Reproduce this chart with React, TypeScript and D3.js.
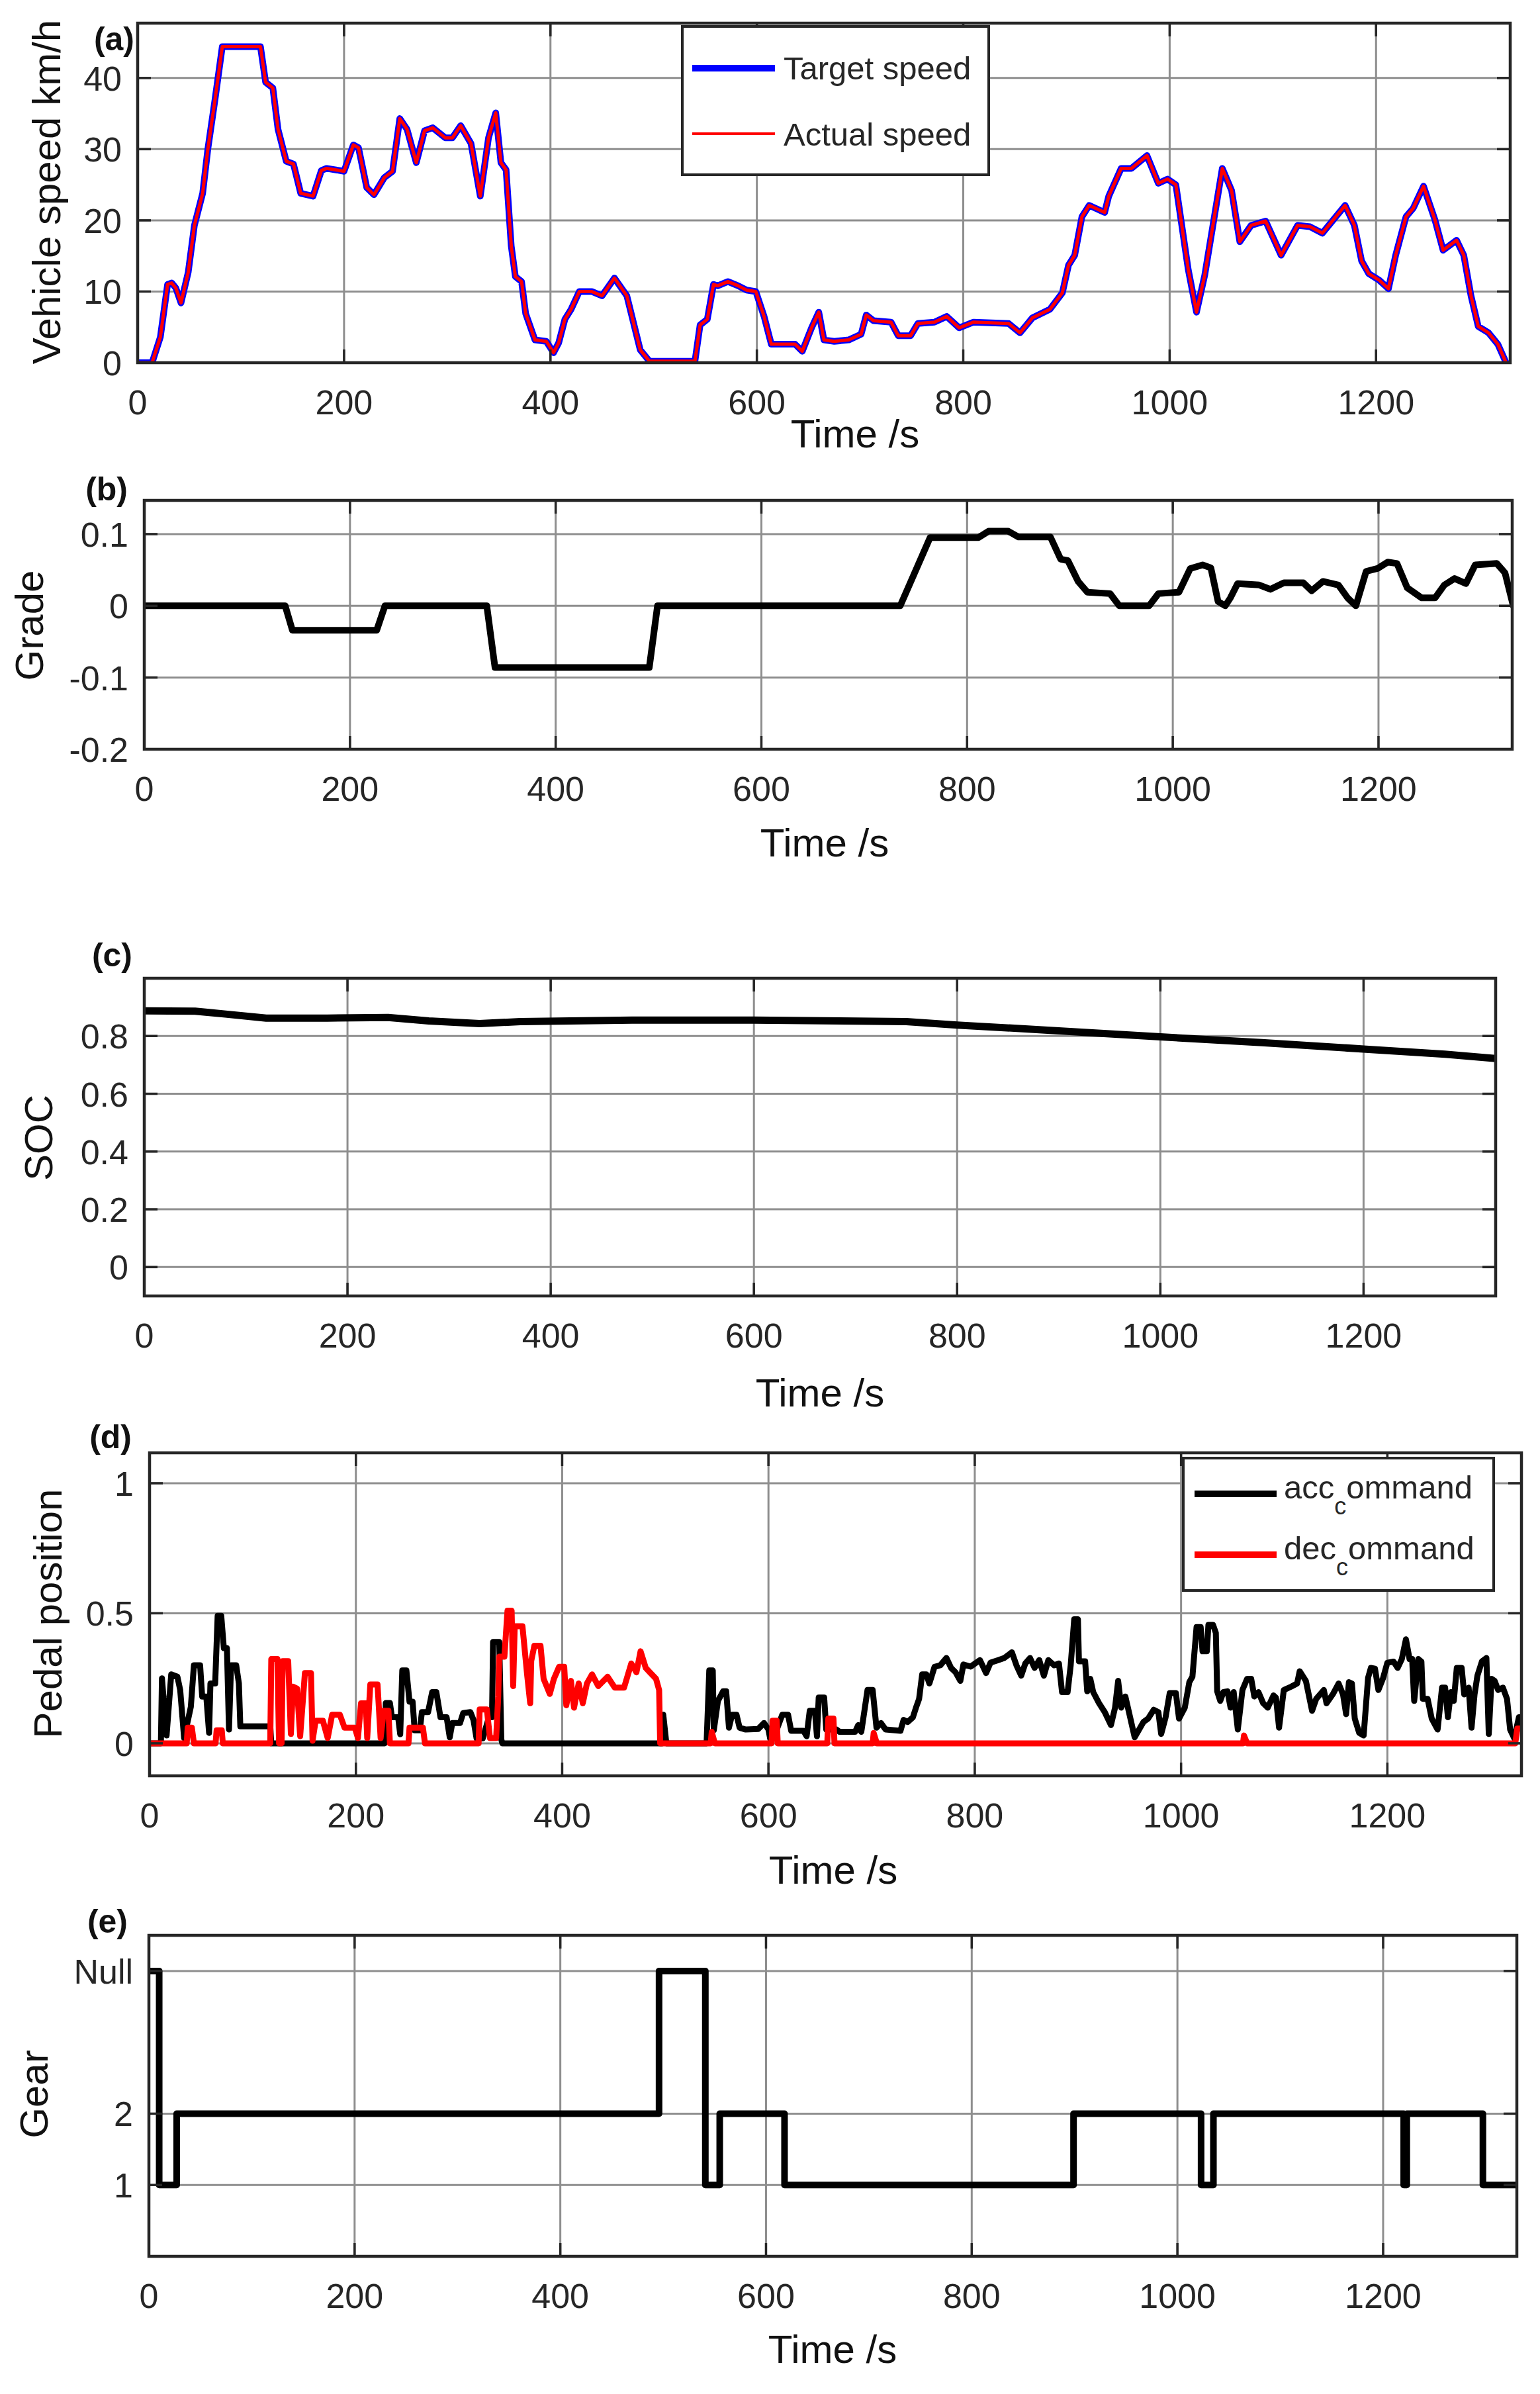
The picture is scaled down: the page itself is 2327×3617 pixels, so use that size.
import React from 'react';
import { line, scaleLinear, curveStepAfter, curveLinear } from 'd3';

const FONT = '"Liberation Sans", Arial, Helvetica, sans-serif';
const AXIS = '#262626';
const GRID = '#8e8e8e';

type Pt = [number, number];

// time axis shared by every panel
const timeRange: Pt = [0, 1330];
const timeTicks = [0, 200, 400, 600, 800, 1000, 1200];

// (a) speed, km/h
const speedTicks = [0, 10, 20, 30, 40];
const speedProfile: Pt[] = [
  [0, 0], [14, 0], [22, 3.6], [29, 11], [33, 11.2], [37, 10.5], [42, 8.4], [49, 12.7], [55, 19.3], [63, 23.8],
  [68, 30], [75, 37], [82, 44.4], [119, 44.4], [124, 39.4], [131, 38.6], [136, 32.8], [144, 28.3], [151, 27.9],
  [158, 23.8], [170, 23.4], [178, 27], [183, 27.3], [200, 26.9], [209, 30.6], [214, 30.2], [222, 24.6], [229, 23.6],
  [239, 26], [247, 26.9], [254, 34.3], [261, 32.8], [270, 28.1], [278, 32.6], [286, 33], [298, 31.6], [305, 31.6],
  [313, 33.3], [323, 30.8], [332, 23.4], [340, 31.6], [347, 35.1], [352, 28.1], [357, 27.1], [362, 16.4], [366, 12.1],
  [372, 11.4], [376, 6.9], [385, 3.2], [396, 3], [403, 1.4], [408, 2.8], [414, 6.1], [420, 7.5], [428, 10], [440, 10],
  [450, 9.4], [462, 11.9], [474, 9.4], [487, 1.8], [496, 0.2], [540, 0.2], [545, 5.3], [552, 6.1], [558, 11],
  [562, 10.8], [572, 11.4], [582, 10.8], [590, 10.2], [599, 10], [607, 6.5], [614, 2.6], [637, 2.6], [644, 1.6],
  [653, 4.9], [660, 7.1], [665, 3.2], [675, 3], [689, 3.2], [701, 4], [706, 6.7], [713, 5.9], [730, 5.7], [737, 3.8],
  [749, 3.8], [756, 5.5], [772, 5.7], [784, 6.5], [796, 4.9], [810, 5.7], [844, 5.5], [855, 4.2], [867, 6.3],
  [884, 7.5], [896, 9.8], [902, 13.7], [908, 15.1], [915, 20.5], [922, 22.1], [937, 21.1], [941, 23.4], [953, 27.3],
  [963, 27.3], [978, 29.1], [989, 25.2], [998, 25.8], [1006, 25], [1018, 13.1], [1026, 7.1], [1034, 12.3],
  [1051, 27.3], [1060, 24.2], [1068, 17], [1079, 19.3], [1093, 19.9], [1108, 15.1], [1124, 19.3], [1136, 19.1],
  [1148, 18.2], [1170, 22.1], [1179, 19.3], [1186, 14.3], [1193, 12.5], [1203, 11.6], [1212, 10.4], [1219, 15.1],
  [1229, 20.5], [1236, 21.7], [1246, 24.8], [1257, 20.1], [1265, 15.8], [1278, 17.2], [1285, 15.1], [1292, 9.4],
  [1299, 5.1], [1309, 4.2], [1318, 2.6], [1326, 0],
];

// (b) road grade
const gradeTicks = [-0.2, -0.1, 0, 0.1];
const gradeTickLabels = ['-0.2', '-0.1', '0', '0.1'];
const gradeProfile: Pt[] = [
  [0, 0], [137, 0], [144, -0.034], [226, -0.034], [234, 0], [333, 0], [341, -0.086], [491, -0.086], [499, 0],
  [735, 0], [764, 0.095], [811, 0.095], [821, 0.104], [840, 0.104], [850, 0.096], [881, 0.096], [891, 0.065],
  [898, 0.063], [908, 0.034], [917, 0.019], [939, 0.017], [948, 0], [977, 0], [986, 0.017], [1006, 0.019],
  [1017, 0.052], [1029, 0.057], [1037, 0.053], [1044, 0.006], [1051, 0], [1056, 0.011], [1063, 0.031], [1084, 0.029],
  [1095, 0.023], [1108, 0.032], [1127, 0.032], [1135, 0.021], [1146, 0.034], [1161, 0.029], [1170, 0.011],
  [1178, 0], [1188, 0.048], [1199, 0.052], [1209, 0.061], [1218, 0.059], [1228, 0.025], [1242, 0.011], [1255, 0.011],
  [1264, 0.029], [1274, 0.038], [1285, 0.031], [1294, 0.057], [1315, 0.059], [1323, 0.046], [1331, 0],
];

// (c) battery state of charge
const socTicks = [0, 0.2, 0.4, 0.6, 0.8];
const socTickLabels = ['0', '0.2', '0.4', '0.6', '0.8'];
const socProfile: Pt[] = [
  [0, 0.887], [50, 0.886], [80, 0.876], [120, 0.862], [180, 0.862], [240, 0.864], [280, 0.852], [330, 0.843],
  [370, 0.85], [480, 0.855], [600, 0.855], [750, 0.85], [800, 0.838], [900, 0.818], [1000, 0.797], [1100, 0.777],
  [1200, 0.755], [1280, 0.737], [1330, 0.722],
];

// (d) pedal commands
const pedalTicks = [0, 0.5, 1];
const pedalTickLabels = ['0', '0.5', '1'];
const accCommand: Pt[] = [
  [0, 0], [11, 0], [12, 0.25], [16.5, 0.03], [21, 0.265], [27, 0.256], [29.7, 0.205], [33.5, 0.02], [40, 0.14],
  [43, 0.3], [49, 0.3], [51, 0.18], [55, 0.18], [57.7, 0.04], [59, 0.23], [63.6, 0.23], [66, 0.49], [69.5, 0.49],
  [72, 0.366], [75, 0.366], [77, 0.053], [79, 0.3], [84, 0.3], [86.6, 0.23], [88, 0.065], [117, 0.065], [118, 0],
  [228, 0], [229, 0.155], [233, 0.155], [235, 0.1], [241, 0.1], [243, 0.035], [245, 0.28], [249, 0.28], [252, 0.16],
  [255, 0.16], [257, 0.05], [262, 0.05], [264, 0.12], [270, 0.12], [274, 0.197], [278, 0.197], [282, 0.1], [288, 0.1],
  [291, 0.023], [293.5, 0.078], [301, 0.078], [304, 0.116], [311, 0.12], [314, 0.09], [317, 0.019], [323, 0.019],
  [329, 0.1], [332, 0.1], [333, 0.39], [339, 0.39], [341, 0.015], [342, 0], [497, 0], [498, 0.11], [501, 0], [540, 0],
  [542.6, 0.28], [546, 0.28], [547, 0.05], [551, 0.163], [556, 0.2], [559, 0.2], [561.7, 0.06], [564.7, 0.11],
  [569, 0.11], [572, 0.06], [578, 0.053], [590, 0.055], [595.7, 0.078], [600, 0.053], [601.6, 0.019], [605, 0.02],
  [613.4, 0.11], [619, 0.11], [622, 0.048], [634, 0.048], [637, 0.027], [640, 0.125], [645, 0.125], [647, 0.027],
  [648.7, 0.176], [654, 0.176], [656, 0.053], [666, 0.053], [669, 0.044], [684, 0.044], [687, 0.07], [690, 0.044],
  [696, 0.205], [701, 0.205], [704.7, 0.06], [709, 0.078], [713.6, 0.053], [728, 0.048], [731, 0.09], [735, 0.082],
  [740, 0.1], [743, 0.137], [746, 0.17], [749, 0.265], [753, 0.265], [756, 0.23], [761, 0.294], [766.6, 0.3],
  [772.5, 0.328], [777, 0.29], [781.4, 0.273], [786, 0.24], [789, 0.303], [796, 0.295], [805, 0.32], [811, 0.27],
  [815.3, 0.31], [822.7, 0.32], [828.6, 0.328], [836, 0.35], [840.4, 0.3], [845, 0.26], [849, 0.307], [853.6, 0.328],
  [858, 0.29], [862.5, 0.32], [867, 0.26], [871.3, 0.32], [877, 0.3], [881.6, 0.307], [884.6, 0.197], [890, 0.197],
  [893, 0.3], [896.4, 0.477], [900, 0.477], [901, 0.315], [907, 0.315], [909, 0.2], [912, 0.248], [914.8, 0.197],
  [920.5, 0.154], [926, 0.12], [932, 0.07], [936, 0.137], [939, 0.24], [942, 0.137], [946, 0.18], [950.6, 0.1],
  [955, 0.023], [963.5, 0.082], [968, 0.095], [973.5, 0.129], [978, 0.12], [980.7, 0.036], [985, 0.1], [989, 0.193],
  [995, 0.193], [998, 0.095], [1003.6, 0.137], [1008, 0.235], [1011, 0.256], [1015, 0.447], [1019, 0.447],
  [1020.8, 0.354], [1025, 0.354], [1026.5, 0.455], [1031, 0.455], [1033.7, 0.425], [1035, 0.2], [1038, 0.163],
  [1041, 0.197], [1045, 0.2], [1048, 0.137], [1051, 0.197], [1055, 0.053], [1059.5, 0.205], [1064, 0.248],
  [1068, 0.248], [1071, 0.18], [1075, 0.197], [1079.6, 0.154], [1084, 0.137], [1089.6, 0.184], [1092, 0.175],
  [1095, 0.06], [1099.6, 0.205], [1106.8, 0.218], [1112.5, 0.23], [1115, 0.277], [1121, 0.24], [1127, 0.125],
  [1131, 0.171], [1138.4, 0.205], [1141, 0.154], [1147, 0.188], [1152.7, 0.23], [1157, 0.188], [1160, 0.112],
  [1162.7, 0.235], [1165.6, 0.23], [1168.4, 0.095], [1172.7, 0.04], [1177, 0.03], [1181.3, 0.252], [1184, 0.29],
  [1188, 0.287], [1191.3, 0.205], [1195.6, 0.248], [1200, 0.31], [1206, 0.314], [1210, 0.29], [1214, 0.324],
  [1218, 0.4], [1221.5, 0.324], [1224, 0.324], [1226, 0.163], [1230, 0.324], [1233, 0.314], [1234.4, 0.171],
  [1239, 0.171], [1243, 0.095], [1248.7, 0.053], [1253, 0.214], [1256, 0.214], [1258.7, 0.1], [1261.6, 0.197],
  [1264.4, 0.163], [1267.3, 0.29], [1272, 0.29], [1274.5, 0.188], [1278.8, 0.214], [1281.6, 0.06], [1284.5, 0.188],
  [1287.3, 0.26], [1291.7, 0.315], [1296, 0.328], [1298.3, 0.036], [1301, 0.248], [1304, 0.24], [1307.4, 0.205],
  [1312, 0.214], [1316, 0.171], [1319, 0.053], [1323, 0.019], [1327.5, 0.1], [1330, 0.1],
];
const decCommand: Pt[] = [
  [0, 0], [36, 0], [37, 0.06], [41, 0.06], [43, 0], [64, 0], [65, 0.05], [70, 0.05], [71, 0], [117, 0], [118, 0.324],
  [124, 0.324], [125.5, 0], [128, 0], [129, 0.316], [134.4, 0.316], [137, 0.036], [139, 0.218], [143, 0.21],
  [146, 0.027], [150.6, 0.27], [156.5, 0.27], [158, 0.01], [161, 0.087], [168, 0.087], [172.7, 0.02], [177, 0.11],
  [184.5, 0.11], [189, 0.06], [199, 0.06], [202, 0.02], [205, 0.154], [209.6, 0.154], [211, 0.02], [214, 0.226],
  [221, 0.226], [224, 0.02], [227, 0.125], [231.6, 0.125], [233, 0], [251, 0], [252, 0.06], [265, 0.06], [267, 0],
  [319, 0], [320, 0.13], [327, 0.13], [330, 0.02], [336, 0.02], [338, 0.18], [339, 0.333], [344, 0.333], [347, 0.51],
  [351, 0.51], [352.5, 0.22], [354, 0.45], [361.5, 0.45], [366, 0.265], [369, 0.154], [370, 0.316], [373, 0.375],
  [379, 0.375], [382, 0.248], [388, 0.19], [392, 0.248], [397, 0.294], [402, 0.294], [404, 0.146], [408.5, 0.24],
  [411.5, 0.137], [416, 0.23], [420, 0.154], [424, 0.23], [429, 0.265], [435, 0.22], [444, 0.256], [451, 0.214],
  [460, 0.214], [467, 0.307], [472, 0.273], [476, 0.354], [481, 0.29], [485, 0.273], [491, 0.248], [494, 0.205],
  [495, 0], [544, 0], [545, 0.044], [548, 0], [603, 0], [604, 0.087], [608, 0.087], [609, 0], [657, 0], [658, 0.095],
  [663, 0.095], [664, 0], [701, 0], [702, 0.04], [705, 0], [1060, 0], [1061, 0.03], [1064, 0], [1324, 0],
  [1326, 0.057], [1330, 0.057],
];

// (e) gear, held until the next change; Null is plotted at 4
const gearTicks = [1, 2, 4];
const gearTickLabels = ['1', '2', 'Null'];
const gearSteps: Pt[] = [
  [0, 4], [10, 1], [27, 2], [496, 4], [541, 1], [555, 2], [618, 1], [899, 2], [1023, 1], [1035, 2], [1220, 1],
  [1223, 2], [1297, 1], [1330, 1],
];

interface Box { l: number; t: number; r: number; b: number }
interface Series { data: Pt[]; color: string; width: number; step?: boolean }
interface PanelProps {
  id: string;
  box: Box;
  yDomain: Pt;
  yTicks: number[];
  yTickLabels: string[];
  yTitle: string;
  yTitlePos: Pt;
  xTitlePos: Pt;
  tag: string;
  tagPos: Pt;
  series: Series[];
  children?: React.ReactNode;
}

function Panel(p: PanelProps) {
  const { box } = p;
  const x = scaleLinear().domain(timeRange).range([box.l, box.r]);
  const y = scaleLinear().domain(p.yDomain).range([box.b, box.t]);
  const tick = 20;
  return (
    <g>
      <defs>
        <clipPath id={`clip-${p.id}`}>
          <rect x={box.l} y={box.t} width={box.r - box.l} height={box.b - box.t} />
        </clipPath>
      </defs>
      {timeTicks.slice(1).map((t) => (
        <line key={`vx${t}`} x1={x(t)} x2={x(t)} y1={box.t} y2={box.b} stroke={GRID} strokeWidth={3} />
      ))}
      {p.yTicks.map((v) => (
        <line key={`hy${v}`} x1={box.l} x2={box.r} y1={y(v)} y2={y(v)} stroke={GRID} strokeWidth={3} />
      ))}
      <g clipPath={`url(#clip-${p.id})`}>
        {p.series.map((s, i) => {
          const gen = line<Pt>()
            .x((d) => x(d[0]))
            .y((d) => y(d[1]))
            .curve(s.step ? curveStepAfter : curveLinear);
          return (
            <path key={i} d={gen(s.data) || ''} fill="none" stroke={s.color} strokeWidth={s.width}
              strokeLinejoin="round" strokeLinecap="round" />
          );
        })}
      </g>
      {p.yTicks.map((v) => (
        <g key={`ty${v}`} stroke={AXIS} strokeWidth={3.5}>
          <line x1={box.l} x2={box.l + tick} y1={y(v)} y2={y(v)} />
          <line x1={box.r} x2={box.r - tick} y1={y(v)} y2={y(v)} />
        </g>
      ))}
      {timeTicks.map((t) => (
        <g key={`tx${t}`} stroke={AXIS} strokeWidth={3.5}>
          <line x1={x(t)} x2={x(t)} y1={box.b} y2={box.b - tick} />
          <line x1={x(t)} x2={x(t)} y1={box.t} y2={box.t + tick} />
        </g>
      ))}
      <rect x={box.l} y={box.t} width={box.r - box.l} height={box.b - box.t} fill="none" stroke={AXIS} strokeWidth={4.5} />
      {p.yTicks.map((v, i) => (
        <text key={`ly${v}`} x={box.l - 24} y={y(v) + 19} textAnchor="end" fontSize={52} fill={AXIS}>
          {p.yTickLabels[i]}
        </text>
      ))}
      {timeTicks.map((t) => (
        <text key={`lx${t}`} x={x(t)} y={box.b + 78} textAnchor="middle" fontSize={52} fill={AXIS}>
          {t}
        </text>
      ))}
      <text x={p.xTitlePos[0]} y={p.xTitlePos[1]} textAnchor="middle" fontSize={60} fill="#111">Time /s</text>
      <text transform={`translate(${p.yTitlePos[0]},${p.yTitlePos[1]}) rotate(-90)`} textAnchor="middle"
        dy="0.33em" fontSize={60} fill="#111">
        {p.yTitle}
      </text>
      <text x={p.tagPos[0]} y={p.tagPos[1]} textAnchor="end" fontSize={50} fontWeight="bold" fill="#111">
        {p.tag}
      </text>
      {p.children}
    </g>
  );
}

export default function App() {
  return (
    <svg width={2327} height={3617} viewBox="0 0 2327 3617"
      style={{ position: 'absolute', left: 0, top: 0, background: '#fff', fontFamily: FONT }}>
      <rect width={2327} height={3617} fill="#fff" />

      <Panel id="a" box={{ l: 208, t: 35, r: 2282, b: 548 }} yDomain={[0, 47.7]} yTicks={speedTicks}
        yTickLabels={speedTicks.map(String)} yTitle="Vehicle speed km/h" yTitlePos={[71, 290]}
        xTitlePos={[1292, 676]} tag="(a)" tagPos={[203, 76]}
        series={[
          { data: speedProfile, color: '#0000ff', width: 10 },
          { data: speedProfile, color: '#ff0000', width: 5 },
        ]}>
        <g>
          <rect x={1031} y={40} width={463} height={224} fill="#fff" stroke={AXIS} strokeWidth={4} />
          <line x1={1046} x2={1171} y1={103} y2={103} stroke="#0000ff" strokeWidth={10} />
          <line x1={1046} x2={1171} y1={202} y2={202} stroke="#ff0000" strokeWidth={4} />
          <text x={1184} y={120} fontSize={49} fill={AXIS}>Target speed</text>
          <text x={1184} y={220} fontSize={49} fill={AXIS}>Actual speed</text>
        </g>
      </Panel>

      <Panel id="b" box={{ l: 218, t: 756, r: 2285, b: 1132 }} yDomain={[-0.2, 0.147]} yTicks={gradeTicks}
        yTickLabels={gradeTickLabels} yTitle="Grade" yTitlePos={[45, 945]} xTitlePos={[1246, 1294]}
        tag="(b)" tagPos={[193, 756]}
        series={[{ data: gradeProfile, color: '#000', width: 10 }]} />

      <Panel id="c" box={{ l: 218, t: 1478, r: 2260, b: 1958 }} yDomain={[-0.1, 1]} yTicks={socTicks}
        yTickLabels={socTickLabels} yTitle="SOC" yTitlePos={[59, 1719]} xTitlePos={[1239, 2125]}
        tag="(c)" tagPos={[200, 1460]}
        series={[{ data: socProfile, color: '#000', width: 11 }]} />

      <Panel id="d" box={{ l: 226, t: 2195, r: 2299, b: 2683 }} yDomain={[-0.125, 1.117]} yTicks={pedalTicks}
        yTickLabels={pedalTickLabels} yTitle="Pedal position" yTitlePos={[73, 2438]} xTitlePos={[1259, 2846]}
        tag="(d)" tagPos={[199, 2188]}
        series={[
          { data: accCommand, color: '#000', width: 9 },
          { data: decCommand, color: '#ff0000', width: 9 },
        ]}>
        <g>
          <rect x={1788} y={2203} width={469} height={200} fill="#fff" stroke={AXIS} strokeWidth={4} />
          <line x1={1805} x2={1929} y1={2257} y2={2257} stroke="#000" strokeWidth={10} />
          <line x1={1805} x2={1929} y1={2349} y2={2349} stroke="#ff0000" strokeWidth={10} />
          <text x={1940} y={2264} fontSize={49} fill={AXIS}>
            acc<tspan dy={24} fontSize={36}>c</tspan><tspan dy={-24} fontSize={49}>ommand</tspan>
          </text>
          <text x={1940} y={2356} fontSize={49} fill={AXIS}>
            dec<tspan dy={24} fontSize={36}>c</tspan><tspan dy={-24} fontSize={49}>ommand</tspan>
          </text>
        </g>
      </Panel>

      <Panel id="e" box={{ l: 225, t: 2924, r: 2292, b: 3409 }} yDomain={[0, 4.5]} yTicks={gearTicks}
        yTickLabels={gearTickLabels} yTitle="Gear" yTitlePos={[52, 3164]} xTitlePos={[1258, 3570]}
        tag="(e)" tagPos={[193, 2920]}
        series={[{ data: gearSteps, color: '#000', width: 10, step: true }]} />
    </svg>
  );
}
